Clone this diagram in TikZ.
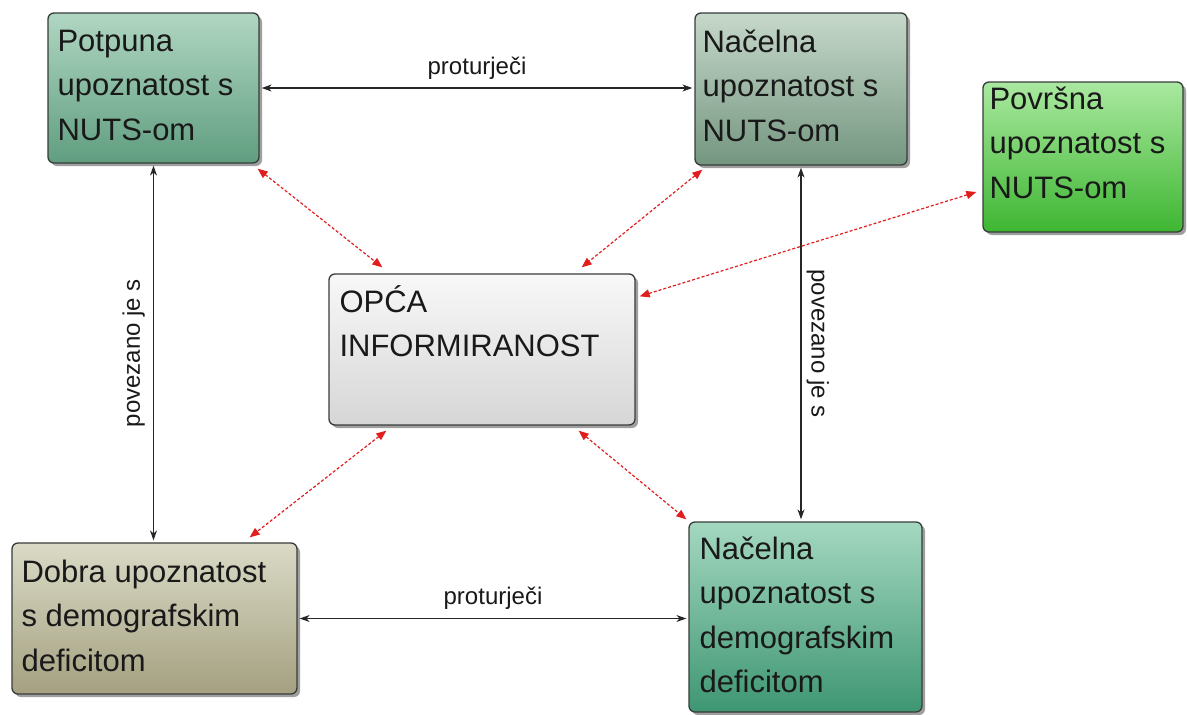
\documentclass[tikz,border=0pt]{standalone}
\usepackage{fontspec}
\setmainfont{Liberation Sans}
\usetikzlibrary{arrows.meta,calc,shadows}
\definecolor{textc}{RGB}{25,25,25}
\definecolor{borderc}{RGB}{55,60,58}
\definecolor{redc}{RGB}{225,30,30}
\definecolor{aTop}{RGB}{176,214,194}
\definecolor{aBot}{RGB}{96,158,128}
\definecolor{bTop}{RGB}{198,216,202}
\definecolor{bBot}{RGB}{116,150,128}
\definecolor{cTop}{RGB}{170,232,160}
\definecolor{cBot}{RGB}{62,182,50}
\definecolor{dTop}{RGB}{248,248,248}
\definecolor{dBot}{RGB}{214,214,214}
\definecolor{eTop}{RGB}{218,218,198}
\definecolor{eBot}{RGB}{164,160,128}
\definecolor{fTop}{RGB}{164,216,192}
\definecolor{fBot}{RGB}{62,150,114}
\begin{document}
\begin{tikzpicture}[x=1pt,y=-1pt,
  box/.style={draw=borderc, line width=1.3pt, rounded corners=6pt, inner sep=0,
    drop shadow={shadow xshift=3pt, shadow yshift=-3pt, opacity=0.5, fill=black!75}},
  txt/.style={anchor=base west, inner sep=0, text=textc, font=\fontsize{31}{44.5}\selectfont},
  lab/.style={inner sep=0, text=textc, font=\fontsize{24}{28}\selectfont},
  bk/.style={draw=black!85, line width=1.1pt, {Stealth[length=10pt,width=7pt]}-{Stealth[length=10pt,width=7pt]}, shorten >=2pt, shorten <=2pt},
  rd/.style={draw=redc, line width=1.2pt, dash pattern=on 3pt off 2pt, {Triangle[length=10pt,width=8pt]}-{Triangle[length=10pt,width=8pt]}}
]
\useasboundingbox (0,0) rectangle (1187,715);
\fill[white] (0,0) rectangle (1187,715);

% boxes
\node[box, top color=aTop, bottom color=aBot, minimum width=211pt, minimum height=150pt] (b1) at (153.5,88) {};
\node[box, top color=bTop, bottom color=bBot, minimum width=212pt, minimum height=152pt] (b2) at (801,89) {};
\node[box, top color=cTop, bottom color=cBot, minimum width=200pt, minimum height=150pt] (b3) at (1083,157) {};
\node[box, top color=dTop, bottom color=dBot, minimum width=306pt, minimum height=151pt] (c) at (482,349.5) {};
\node[box, top color=eTop, bottom color=eBot, minimum width=285pt, minimum height=151pt] (b4) at (154.5,618.5) {};
\node[box, top color=fTop, bottom color=fBot, minimum width=233pt, minimum height=190pt] (b5) at (805.5,617) {};

% texts
\node[txt] (t1) at ($(b1.north west)+(10,39)$) {\parbox[t]{300pt}{Potpuna\\upoznatost s\\NUTS-om}};
\node[txt] (t2) at ($(b2.north west)+(8,40)$) {\parbox[t]{300pt}{Načelna\\upoznatost s\\NUTS-om}};
\node[txt] (t3) at ($(b3.north west)+(7,28)$) {\parbox[t]{300pt}{Površna\\upoznatost s\\NUTS-om}};
\node[txt] (tc) at ($(c.north west)+(11,39)$) {\parbox[t]{300pt}{OPĆA\\INFORMIRANOST}};
\node[txt] (t4) at ($(b4.north west)+(10,40)$) {\parbox[t]{300pt}{Dobra upoznatost\\s demografskim\\deficitom}};
\node[txt] (t5) at ($(b5.north west)+(11,38)$) {\parbox[t]{300pt}{Načelna\\upoznatost s\\demografskim\\deficitom}};

% black connectors
\draw[bk] (b1.east) -- node[lab, midway, anchor=south, yshift=8pt] (l1) {proturječi} (b1.east -| b2.west);
\draw[bk] (b4.east) -- node[lab, midway, anchor=south, yshift=8pt] (l2) {proturječi} (b4.east -| b5.west);
\draw[bk] (b1.south) -- node[lab, midway, rotate=90, anchor=south, yshift=8pt] (l3) {povezano je s} (b1.south |- b4.north);
\draw[bk] (b2.south) -- node[lab, midway, rotate=-90, anchor=south, yshift=5pt] (l4) {povezano je s} (b2.south |- b5.north);

% red dashed connectors
\draw[rd] ($(b1.south east)+(-2,5)$) -- ($(c.north west)+(54,-6)$);
\draw[rd] ($(b2.south west)+(8,4)$) -- ($(c.north east)+(-54,-6)$);
\draw[rd] ($(b3.west)+(-6,35)$) -- ($(c.north east)+(4,23)$);
\draw[rd] ($(c.south west)+(58,5)$) -- ($(b4.north east)+(-48,-5)$);
\draw[rd] ($(c.south east)+(-57,5)$) -- ($(b5.north west)+(-2,-2)$);
\end{tikzpicture}
\end{document}
